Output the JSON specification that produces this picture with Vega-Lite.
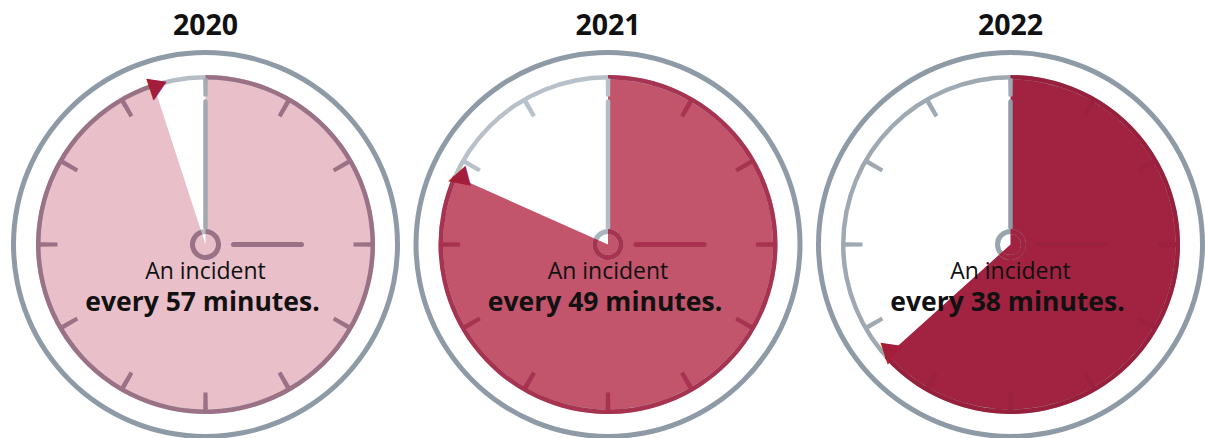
{
  "$schema": "https://vega.github.io/schema/vega-lite/v6.json",
  "width": 1205,
  "height": 438,
  "autosize": {"type": "none"},
  "padding": 0,
  "background": "white",
  "config": {"view": {"stroke": null}},
  "datasets": {
    "clocks": [
      {"year": "2020", "minutes": 57, "phrase": "every 57 minutes."},
      {"year": "2021", "minutes": 49, "phrase": "every 49 minutes."},
      {"year": "2022", "minutes": 38, "phrase": "every 38 minutes."}
    ],
    "ticks": [
      {"year": "2020", "minute": 0}, {"year": "2020", "minute": 5}, {"year": "2020", "minute": 10}, {"year": "2020", "minute": 15},
      {"year": "2020", "minute": 20}, {"year": "2020", "minute": 25}, {"year": "2020", "minute": 30}, {"year": "2020", "minute": 35},
      {"year": "2020", "minute": 40}, {"year": "2020", "minute": 45}, {"year": "2020", "minute": 50}, {"year": "2020", "minute": 55},
      {"year": "2021", "minute": 0}, {"year": "2021", "minute": 5}, {"year": "2021", "minute": 10}, {"year": "2021", "minute": 15},
      {"year": "2021", "minute": 20}, {"year": "2021", "minute": 25}, {"year": "2021", "minute": 30}, {"year": "2021", "minute": 35},
      {"year": "2021", "minute": 40}, {"year": "2021", "minute": 45}, {"year": "2021", "minute": 50}, {"year": "2021", "minute": 55},
      {"year": "2022", "minute": 0}, {"year": "2022", "minute": 5}, {"year": "2022", "minute": 10}, {"year": "2022", "minute": 15},
      {"year": "2022", "minute": 20}, {"year": "2022", "minute": 25}, {"year": "2022", "minute": 30}, {"year": "2022", "minute": 35},
      {"year": "2022", "minute": 40}, {"year": "2022", "minute": 45}, {"year": "2022", "minute": 50}, {"year": "2022", "minute": 55}
    ]
  },
  "data": {"name": "clocks"},
  "encoding": {
    "x": {"field": "year", "type": "ordinal", "axis": null, "scale": {"type": "point", "range": [205.5, 1010.5], "padding": 0}}
  },
  "layer": [
    {
      "mark": {"type": "arc", "innerRadius": 189.5, "outerRadius": 194.5},
      "encoding": {
        "y": {"datum": 0, "scale": {"domain": [-193.5, 244.5], "zero": false, "nice": false}, "axis": null},
        "theta": {"datum": 0, "scale": {"type": "linear", "domain": [0, 60], "range": [0, 6.283185307], "zero": false, "nice": false}},
        "theta2": {"datum": 60},
        "color": {"value": "#8e9ba7"}
      }
    },
    {
      "mark": {"type": "arc", "innerRadius": 0, "outerRadius": 167},
      "encoding": {
        "y": {"datum": 0},
        "theta": {"field": "minutes", "type": "quantitative", "stack": null},
        "theta2": {"datum": 0},
        "color": {"condition": [{"test": "datum.year==='2020'", "value": "#e9c0ca"}, {"test": "datum.year==='2021'", "value": "#c2546c"}], "value": "#a12341"}
      }
    },
    {
      "mark": {"type": "arc", "innerRadius": 165, "outerRadius": 169.5},
      "encoding": {
        "y": {"datum": 0},
        "theta": {"datum": 0},
        "theta2": {"datum": 60},
        "color": {"condition": [{"test": "datum.year==='2020'", "value": "#b5bec6"}, {"test": "datum.year==='2021'", "value": "#b8c1c9"}], "value": "#9ea9b2"}
      }
    },
    {
      "mark": {"type": "arc", "innerRadius": 165, "outerRadius": 169.5},
      "encoding": {
        "y": {"datum": 0},
        "theta": {"field": "minutes", "type": "quantitative", "stack": null},
        "theta2": {"datum": 0},
        "color": {"condition": [{"test": "datum.year==='2020'", "value": "#9b7285"}, {"test": "datum.year==='2021'", "value": "#a73350"}], "value": "#98203c"}
      }
    },
    {
      "data": {"name": "ticks"},
      "transform": [{"lookup": "year", "from": {"data": {"name": "clocks"}, "key": "year", "fields": ["minutes"]}}],
      "mark": {"type": "arc", "innerRadius": 148, "outerRadius": 166, "thetaOffset": -0.014, "theta2Offset": 0.014},
      "encoding": {
        "y": {"datum": 0},
        "theta": {"field": "minute", "type": "quantitative", "stack": null},
        "theta2": {"field": "minute"},
        "color": {"condition": [
          {"test": "datum.minute > 0 && datum.minute < datum.minutes && datum.year==='2020'", "value": "#9b7285"},
          {"test": "datum.minute > 0 && datum.minute < datum.minutes && datum.year==='2021'", "value": "#a73350"},
          {"test": "datum.minute > 0 && datum.minute < datum.minutes && datum.year==='2022'", "value": "#9b213e"},
          {"test": "datum.year==='2020'", "value": "#a3acb3"},
          {"test": "datum.year==='2021'", "value": "#b8c1c9"}
        ], "value": "#9ea9b2"}
      }
    },
    {
      "mark": {"type": "rule", "strokeWidth": 4.5, "strokeCap": "round"},
      "encoding": {
        "y": {"datum": 17},
        "y2": {"datum": 143},
        "color": {"condition": [{"test": "datum.year==='2020'", "value": "#a0a9b0"}, {"test": "datum.year==='2021'", "value": "#b4bdc5"}], "value": "#8f9ba6"}
      }
    },
    {
      "mark": {"type": "rule", "strokeWidth": 5, "strokeCap": "round", "xOffset": 28, "x2Offset": 96},
      "encoding": {
        "x2": {"field": "year"},
        "y": {"datum": 0},
        "color": {"condition": [{"test": "datum.year==='2020'", "value": "#9b7285"}, {"test": "datum.year==='2021'", "value": "#a73350"}], "value": "#9b213e"}
      }
    },
    {
      "mark": {"type": "arc", "innerRadius": 10.5, "outerRadius": 15.5},
      "encoding": {
        "y": {"datum": 0},
        "theta": {"datum": 0},
        "theta2": {"datum": 60},
        "color": {"condition": [{"test": "datum.year==='2020'", "value": "#b5bec6"}, {"test": "datum.year==='2021'", "value": "#a9b5bf"}], "value": "#98a4ae"}
      }
    },
    {
      "mark": {"type": "arc", "innerRadius": 10.5, "outerRadius": 15.5},
      "encoding": {
        "y": {"datum": 0},
        "theta": {"field": "minutes", "type": "quantitative", "stack": null},
        "theta2": {"datum": 0},
        "color": {"condition": [{"test": "datum.year==='2020'", "value": "#9b7285"}, {"test": "datum.year==='2021'", "value": "#a73350"}], "value": "#a12341"}
      }
    },
    {
      "mark": {"type": "text", "font": "DejaVu Sans", "fontSize": 27, "radius": 163, "align": "center", "baseline": "middle"},
      "encoding": {
        "y": {"datum": 0},
        "theta": {"field": "minutes", "type": "quantitative", "stack": null},
        "text": {"value": "▼"},
        "angle": {"condition": [{"test": "datum.year==='2021'", "value": 75}], "value": 8},
        "color": {"value": "#a41d3a"}
      }
    },
    {
      "mark": {"type": "text", "font": "Open Sans", "fontSize": 23, "align": "center", "baseline": "alphabetic"},
      "encoding": {
        "y": {"datum": -34},
        "text": {"value": "An incident"},
        "color": {"value": "#111111"}
      }
    },
    {
      "mark": {"type": "text", "font": "Open Sans", "fontSize": 26.5, "fontWeight": "bold", "align": "center", "baseline": "alphabetic", "dx": -3},
      "encoding": {
        "y": {"datum": -66},
        "text": {"field": "phrase"},
        "color": {"value": "#111111"}
      }
    },
    {
      "mark": {"type": "text", "font": "Open Sans", "fontSize": 28.5, "fontWeight": "bold", "align": "center", "baseline": "alphabetic"},
      "encoding": {
        "y": {"datum": 209.5},
        "text": {"field": "year"},
        "color": {"value": "#111111"}
      }
    }
  ]
}
